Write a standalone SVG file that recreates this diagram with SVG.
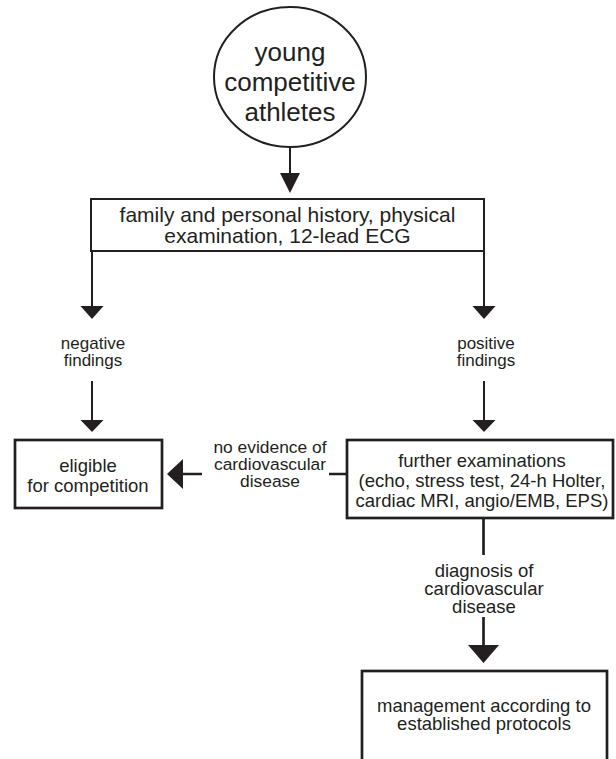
<svg xmlns="http://www.w3.org/2000/svg" width="616" height="759" viewBox="0 0 616 759">
<style>
text{font-family:"Liberation Sans",Arial,sans-serif;fill:#231f20;text-anchor:middle}
.n{fill:#fff;stroke:#231f20}
.c{stroke:#231f20;fill:none}
.h{fill:#231f20;stroke:none}
</style>
<rect width="616" height="759" fill="#fff"/>
<g id="connectors">
<line class="c" x1="290" y1="147" x2="290" y2="175" stroke-width="2"/>
<polygon class="h" points="280,173 300,173 290,193"/>
<line class="c" x1="92" y1="251" x2="92" y2="308" stroke-width="2"/>
<polygon class="h" points="80.5,306 103.5,306 92,319"/>
<line class="c" x1="484" y1="251" x2="484" y2="308" stroke-width="2"/>
<polygon class="h" points="472.5,306 495.5,306 484,319"/>
<line class="c" x1="92" y1="381" x2="92" y2="422" stroke-width="2"/>
<polygon class="h" points="80.5,420 103.5,420 92,432"/>
<line class="c" x1="484" y1="381" x2="484" y2="422" stroke-width="2"/>
<polygon class="h" points="472.5,420 495.5,420 484,432"/>
<line class="c" x1="181" y1="474" x2="202" y2="474" stroke-width="2.5"/>
<line class="c" x1="329" y1="474" x2="347" y2="474" stroke-width="2.5"/>
<polygon class="h" points="167,474 183,459 183,489"/>
<line class="c" x1="483.5" y1="518" x2="483.5" y2="555" stroke-width="2.7"/>
<line class="c" x1="483.5" y1="617" x2="483.5" y2="647" stroke-width="2.7"/>
<polygon class="h" points="468,645 499,645 483.5,663"/>
<text x="93" y="349" font-size="17">negative</text>
<text x="93" y="366" font-size="17">findings</text>
<text x="486" y="349" font-size="17">positive</text>
<text x="486" y="366" font-size="17">findings</text>
<text x="270" y="453" font-size="17.4">no evidence of</text>
<text x="270" y="470" font-size="17.4">cardiovascular</text>
<text x="270" y="487" font-size="17.4">disease</text>
<text x="484" y="576.5" font-size="18.5">diagnosis of</text>
<text x="484" y="595" font-size="18.5">cardiovascular</text>
<text x="484" y="613" font-size="18.5">disease</text>
</g>
<g id="athletes">
<ellipse class="n" cx="290" cy="77" rx="76" ry="70" stroke-width="2"/>
<text x="290" y="61" font-size="26">young</text>
<text x="290" y="91" font-size="26">competitive</text>
<text x="290" y="121" font-size="26">athletes</text>
</g>
<g id="screening">
<rect class="n" x="91" y="199" width="393" height="52" stroke-width="2"/>
<text x="287.5" y="221.5" font-size="21">family and personal history, physical</text>
<text x="287.5" y="243" font-size="21">examination, 12-lead ECG</text>
</g>
<g id="eligible">
<rect class="n" x="15" y="440" width="147" height="68" stroke-width="2.7"/>
<text x="88" y="471.5" font-size="18.5">eligible</text>
<text x="88" y="491.5" font-size="18.5">for competition</text>
</g>
<g id="further">
<rect class="n" x="347" y="440" width="266" height="78" stroke-width="2.7"/>
<text x="482" y="466.5" font-size="18.5">further examinations</text>
<text x="482" y="487" font-size="18.5">(echo, stress test, 24-h Holter,</text>
<text x="482" y="507" font-size="18.5">cardiac MRI, angio/EMB, EPS)</text>
</g>
<g id="management">
<rect class="n" x="362" y="671" width="245" height="100" stroke-width="2.7"/>
<text x="484" y="711.5" font-size="18.5">management according to</text>
<text x="484" y="730" font-size="18.5">established protocols</text>
</g>
</svg>
